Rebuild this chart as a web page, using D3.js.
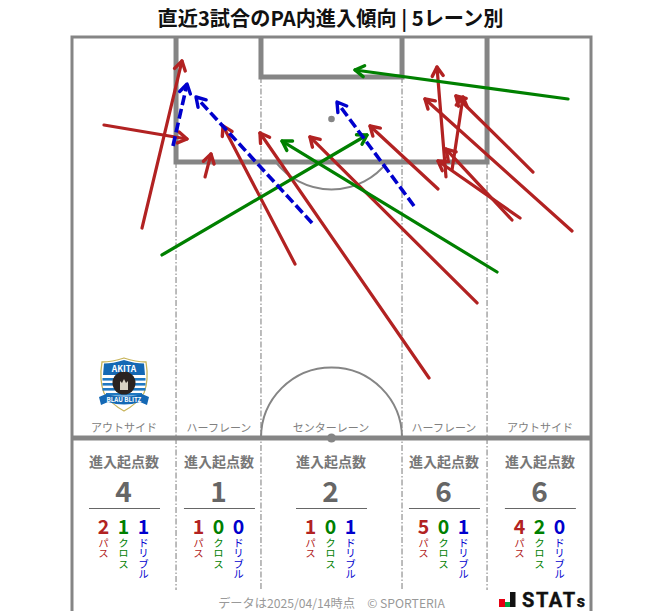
<!DOCTYPE html>
<html><head><meta charset="utf-8">
<script src="https://cdn.jsdelivr.net/npm/d3@7"></script>
<style>html,body{margin:0;padding:0;background:#fff}svg{display:block}text{font-family:"Noto Sans CJK JP","Noto Sans",sans-serif}</style>
</head><body><svg id="c" width="663" height="611"></svg>
<script>
// Runs in pitch metres: [x0, y0, x1, y1], y measured from the goal line
const passRuns = [
 [9.17,25.03,14.41,3.14],[4.19,11.53,15.07,13.36],[17.43,18.34,18.21,15.33],
 [29.22,29.74,19.79,11.66],[46.78,44.68,24.63,12.58],[53.07,34.85,31.18,13.10],
 [47.96,19.92,39.05,11.66],[60.40,17.69,50.31,7.73],[65.51,25.42,46.25,8.12],
 [49.00,18.34,47.82,3.93],[49.79,17.43,51.23,7.86],[58.70,23.72,47.96,16.25],
 [57.65,23.98,49.00,14.68]];
const crossRuns = [[11.79,28.56,38.65,12.84],[55.69,30.79,27.52,13.63],[64.99,8.12,37.08,4.32]];
const dribbleRuns = [[13.23,14.28,15.07,6.16],[31.45,24.37,16.25,7.86],[44.81,22.14,34.72,8.52]];
const zones = ["アウトサイド","ハーフレーン","センターレーン","ハーフレーン","アウトサイド"];
const zoneTotals = [4,1,2,6,6];
const zonePass = [2,1,1,5,4];
const zoneCross = [1,0,0,0,2];
const zoneDribble = [1,0,1,1,0];
const zoneEdges = [13.63,24.76,43.24,54.38];
const zoneCentres = [6.88,19.32,34.0,48.8,61.37];
const kinds = ["パス","クロス","ドリブル"];
const kindColors = ["#b22222","#008000","#0000cd"];

const svg = d3.select("#c");
const x = d3.scaleLinear().domain([0,68]).range([72,591]);
const y = d3.scaleLinear().domain([0,52.54]).range([37,438]);
const gray="#858585";

svg.append("text").attr("x",330.5).attr("y",26).attr("text-anchor","middle").attr("font-size",20.2).attr("font-weight",700).attr("fill","#111").text("直近3試合のPA内進入傾向 | 5レーン別");

const g=svg.append("g").attr("fill","none");
const boxY=16.37, goalY=5.24, spotY=10.75;
zoneEdges.forEach((e,i)=>{
  const top = (i==1||i==2)? y(goalY):y(boxY);
  g.append("line").attr("x1",x(e)).attr("x2",x(e)).attr("y1",top).attr("y2",590)
   .attr("stroke","#999").attr("stroke-width",1.3).attr("stroke-dasharray","6 2 1.5 2");
});
g.append("path").attr("d",`M${x(0)},611V${y(0)}H${x(68)}V611`).attr("stroke",gray).attr("stroke-width",3);
g.append("path").attr("d",`M${x(zoneEdges[0])},${y(0)}V${y(boxY)}H${x(zoneEdges[3])}V${y(0)}`).attr("stroke",gray).attr("stroke-width",5);
g.append("path").attr("d",`M${x(zoneEdges[1])},${y(0)}V${y(goalY)}H${x(zoneEdges[2])}V${y(0)}`).attr("stroke",gray).attr("stroke-width",5);
g.append("line").attr("x1",x(0)).attr("x2",x(68)).attr("y1",y(52.54)).attr("y2",y(52.54)).attr("stroke",gray).attr("stroke-width",5);
const r=70.5;
const arcD=d3.arc().innerRadius(r).outerRadius(r);
const a0=Math.acos((y(boxY)-y(spotY))/r);
g.append("path").attr("transform",`translate(${x(34)},${y(spotY)})`).attr("d",arcD({startAngle:Math.PI-a0,endAngle:Math.PI+a0})).attr("stroke",gray).attr("stroke-width",2);
g.append("path").attr("transform",`translate(${x(34)},${y(52.54)})`).attr("d",arcD({startAngle:-Math.PI/2,endAngle:Math.PI/2})).attr("stroke",gray).attr("stroke-width",2);
svg.append("circle").attr("cx",x(34)).attr("cy",y(spotY)).attr("r",3.3).attr("fill",gray);
svg.append("circle").attr("cx",x(34)).attr("cy",y(52.54)).attr("r",4.5).attr("fill",gray);

function arrows(data,color,dash){
  const gg=svg.append("g").attr("fill","none").attr("stroke",color).attr("stroke-width",3.4).attr("stroke-linecap","round").attr("stroke-linejoin","round");
  data.forEach(d=>{
    const x0=x(d[0]),y0=y(d[1]),x1=x(d[2]),y1=y(d[3]);
    const t=Math.atan2(y1-y0,x1-x0),h=10.5,s=0.55;
    gg.append("line").attr("x1",x0).attr("y1",y0).attr("x2",x1).attr("y2",y1).attr("stroke-linecap",dash?"butt":"round").attr("stroke-dasharray",dash||null).attr("stroke-width",dash?3.6:3.2);
    gg.append("path").attr("d",`M${x1-h*Math.cos(t-s)},${y1-h*Math.sin(t-s)}L${x1},${y1}L${x1-h*Math.cos(t+s)},${y1-h*Math.sin(t+s)}`);
  });
}
arrows(passRuns,kindColors[0]);
arrows(crossRuns,kindColors[1]);
arrows(dribbleRuns,kindColors[2],"10 4");

zones.forEach((z,i)=>{
  const cx=x(zoneCentres[i]);
  svg.append("text").attr("x",cx-0.5).attr("y",432).attr("text-anchor","middle").attr("font-size",11).attr("fill","#808080").text(z);
  svg.append("text").attr("x",cx-0.5).attr("y",467).attr("text-anchor","middle").attr("font-size",14).attr("font-weight",700).attr("fill","#777").text("進入起点数");
  svg.append("text").attr("x",cx-1).attr("y",502).attr("text-anchor","middle").attr("font-size",28).attr("font-weight",700).attr("fill","#666").text(zoneTotals[i]);
  svg.append("line").attr("x1",cx-35.5).attr("x2",cx+35.5).attr("y1",508.5).attr("y2",508.5).attr("stroke","#666").attr("stroke-width",1);
  [zonePass[i],zoneCross[i],zoneDribble[i]].forEach((v,k)=>{
    const px=cx-1+(k-1)*20;
    svg.append("text").attr("x",px).attr("y",534).attr("text-anchor","middle").attr("font-size",19.5).attr("font-weight",700).attr("fill",kindColors[k]).text(v);
    svg.append("text").attr("transform",`translate(${px},537.5)`).attr("font-size",10.5).attr("fill",kindColors[k]).style("writing-mode","vertical-rl").style("text-orientation","upright").attr("dominant-baseline","central").text(kinds[k]);
  });
});

// crest
const c=svg.append("g").attr("transform","translate(124,385)");
c.append("path").attr("d","M-22,-23 Q-12,-23 0,-27 Q12,-23 22,-23 Q25,-5 20,8 Q13,19 0,26 Q-13,19 -20,8 Q-25,-5 -22,-23Z").attr("fill","#fff").attr("stroke","#c8b45a").attr("stroke-width",1.3);
c.append("path").attr("d","M-20,-21.5 Q-11,-21.5 0,-25 Q11,-21.5 20,-21.5 L21,-10 H-21Z").attr("fill","#1468b4");
[-7,-2,3,8].forEach(v=>c.append("rect").attr("x",v==8?-18:-21.5).attr("y",v).attr("width",v==8?36:43).attr("height",2.6).attr("fill","#1f78c1"));
c.append("circle").attr("cy",-2).attr("r",11.5).attr("fill","#2a2320");
c.append("path").attr("d","M-4,5V-4L-2,-2L0,-6L2,-2L4,-4V5Z").attr("fill","#d8d2c4");
c.append("text").attr("y",-13.5).attr("text-anchor","middle").attr("font-size",8.5).attr("font-weight",700).attr("fill","#fff").text("AKITA");
c.append("path").attr("d","M-25,12 L-18,9 Q0,14 18,9 L25,12 L23,20 L16,17 Q0,22 -16,17 L-23,20Z").attr("fill","#1468b4");
c.append("text").attr("y",17).attr("text-anchor","middle").attr("font-size",6.2).attr("font-weight",700).attr("fill","#fff").text("BLAU BLITZ");

svg.append("text").attr("x",331.5).attr("y",607.5).attr("text-anchor","middle").attr("font-size",12.2).attr("fill","#999").text("データは2025/04/14時点　© SPORTERIA");
const stats=svg.append("g");
stats.append("rect").attr("x",499).attr("y",599).attr("width",6).attr("height",8).attr("fill","#e60012");
stats.append("rect").attr("x",505).attr("y",602).attr("width",5).attr("height",5).attr("fill","#00a040");
stats.append("rect").attr("x",510).attr("y",592).attr("width",5.5).attr("height",15).attr("fill","#111");
const st=stats.append("text").attr("x",522).attr("y",607).attr("font-size",20).attr("font-weight",700).attr("fill","#111").attr("stroke","#111").attr("stroke-width",0.4).style("font-family","Roboto,'DejaVu Sans',sans-serif").attr("letter-spacing",1.6);
st.append("tspan").text("STAT");
st.append("tspan").attr("font-size",16).text("s");
</script></body></html>
